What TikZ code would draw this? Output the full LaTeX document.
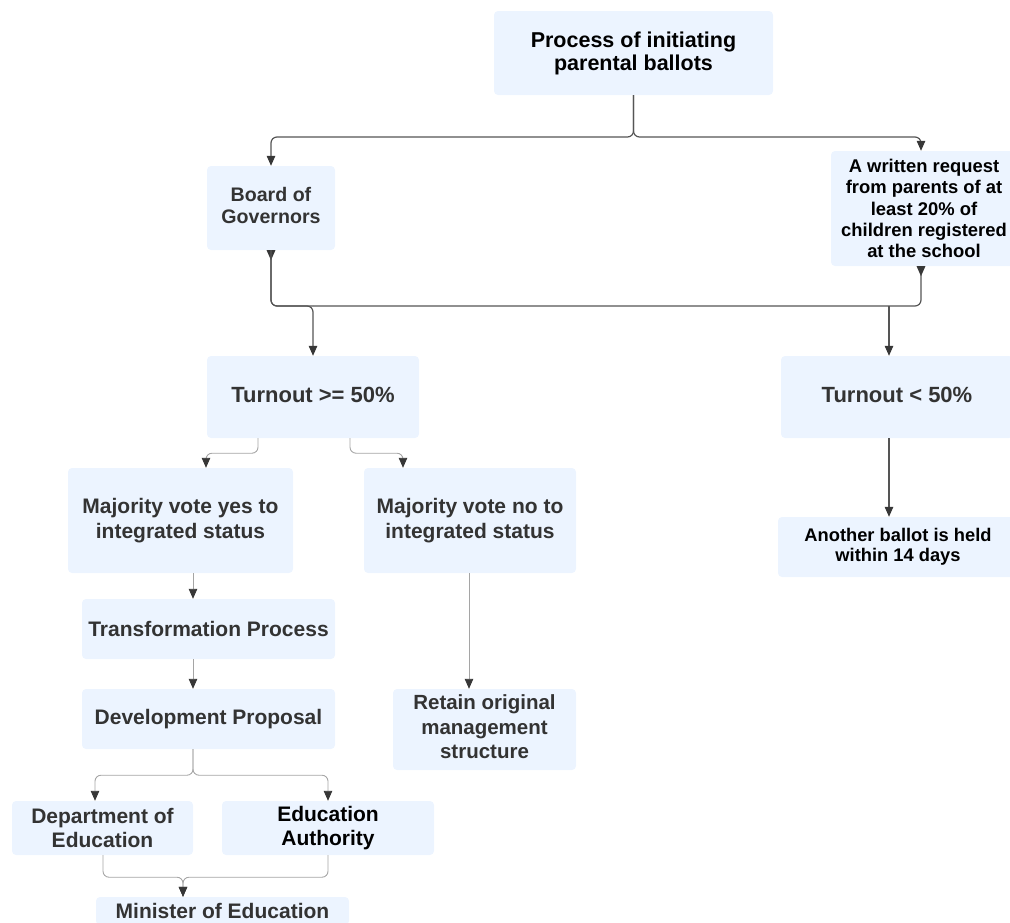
\documentclass[tikz,border=0pt]{standalone}
\usepackage{fontspec}
\setmainfont{Liberation Sans}
\usetikzlibrary{arrows.meta,calc}
\definecolor{boxfill}{RGB}{236,244,255}
\definecolor{txt}{RGB}{51,51,51}
\definecolor{dline}{RGB}{85,85,85}
\definecolor{lline}{RGB}{165,165,165}
\definecolor{tipc}{RGB}{55,55,55}
\newcommand\mkfs[2]{\fontsize{#1}{#2}\selectfont\bfseries}
\newcommand\upby[2]{\raisebox{#1}{\begin{tabular}{@{}c@{}}#2\end{tabular}}}
\begin{document}
\begin{tikzpicture}[x=1pt,y=-1pt,
  box/.style={fill=boxfill, rounded corners=4pt, align=center, inner sep=0pt, text=txt},
  dk/.style={draw=dline, line width=1.2pt, rounded corners=6pt},
  lt/.style={draw=lline, line width=0.9pt, rounded corners=6pt},
  arr/.style={-{Triangle[length=10pt,width=8.5pt,color=tipc]}},
  rarr/.style={{Triangle[length=10pt,width=8.5pt,color=tipc,reversed]}-}
]
\useasboundingbox (0,0) rectangle (1010,922);
\clip (0,0) rectangle (1010,922);

% boxes
\node[box, minimum width=279pt, minimum height=84pt, text=black, font=\mkfs{21.5}{23}] (title) at (633.5,53) {Process of initiating\\parental ballots};
\node[box, minimum width=128pt, minimum height=84pt, font=\mkfs{19.6}{22.7}] (board) at (271,208) {\upby{3pt}{Board of\\Governors}};
\node[box, minimum width=186pt, minimum height=115pt, text=black, font=\mkfs{18.4}{21.3}] (wr) at (924,208.5) {A written request\\from parents of at\\least 20\% of\\children registered\\at the school};
\node[box, minimum width=212pt, minimum height=82pt, font=\mkfs{22}{26}] (t50) at (313,397) {\raisebox{3.5pt}{Turnout >= 50\%}};
\node[box, minimum width=232pt, minimum height=82pt, font=\mkfs{22}{26}] (tl50) at (897,397) {\raisebox{3.5pt}{Turnout < 50\%}};
\node[box, minimum width=225pt, minimum height=105pt, font=\mkfs{21}{25}] (yes) at (180.5,520.5) {Majority vote yes to\\integrated status};
\node[box, minimum width=212pt, minimum height=105pt, font=\mkfs{21}{25}] (no) at (470,520.5) {Majority vote no to\\integrated status};
\node[box, minimum width=240pt, minimum height=60pt, text=black, font=\mkfs{18.3}{20}] (ab) at (898,547) {Another ballot is held\\within 14 days};
\node[box, minimum width=253pt, minimum height=60pt, font=\mkfs{21}{25}] (tp) at (208.5,629) {Transformation Process};
\node[box, minimum width=253pt, minimum height=60pt, font=\mkfs{21}{25}] (dp) at (208.5,719) {Development Proposal};
\node[box, minimum width=183pt, minimum height=81pt, font=\mkfs{20.5}{24.5}] (ret) at (484.5,729.5) {\upby{0.5pt}{Retain original\\management\\structure}};
\node[box, minimum width=181pt, minimum height=54pt, font=\mkfs{21}{24}] (dept) at (102.5,828) {Department of\\Education};
\node[box, minimum width=212pt, minimum height=54pt, text=black, font=\mkfs{21}{24}] (ea) at (328,828) {Education\\Authority};
\node[box, minimum width=253pt, minimum height=28pt, font=\mkfs{21}{25}] (min) at (222.5,911) {Minister of Education};

% junction coordinates
\coordinate (tj) at (633.5,137);
\coordinate (j1) at (313,306);
\coordinate (j2) at (889,306);
\coordinate (ax) at (193,0);

% dark connectors
\draw[dk,arr] (title.south) -- (tj) -| (board.north);
\draw[dk,arr] (title.south) -- (tj) -| ([xshift=-3pt]wr.north);
\draw[dk,rarr] (board.south) |- (j1);
\draw[dk,arr] (board.south) |- (j1) -- (t50.north);
\draw[dk,rarr] ([xshift=-3pt]wr.south) |- (j1);
\draw[dk,arr] (j2) -- (j2 |- tl50.north);
\draw[dk,arr] (tl50.south -| j2) -- (ab.north -| j2);

% light connectors
\draw[lt,arr] ([xshift=-55pt]t50.south) -- ++(0,15) -| ([xshift=25.5pt]yes.north);
\draw[lt,arr] ([xshift=37pt]t50.south) -- ++(0,15) -| ([xshift=-67pt]no.north);
\draw[lt,arr] (yes.south -| ax) -- (tp.north -| ax);
\draw[lt,arr] (tp.south -| ax) -- (dp.north -| ax);
\draw[lt,arr] ([xshift=-1pt]no.south) -- ([xshift=-1pt]no.south |- ret.north);
\draw[lt,arr] (dp.south -| ax) -- ++(0,26) -| ([xshift=-7.5pt]dept.north);
\draw[lt,arr] (dp.south -| ax) -- ++(0,26) -| (ea.north);
\draw[lt,arr] ([xshift=0.5pt]dept.south) -- ++(0,22) -| ([xshift=-39.5pt]min.north);
\draw[lt,arr] (ea.south) -- ++(0,22) -| ([xshift=-39.5pt]min.north);
\end{tikzpicture}
\end{document}
